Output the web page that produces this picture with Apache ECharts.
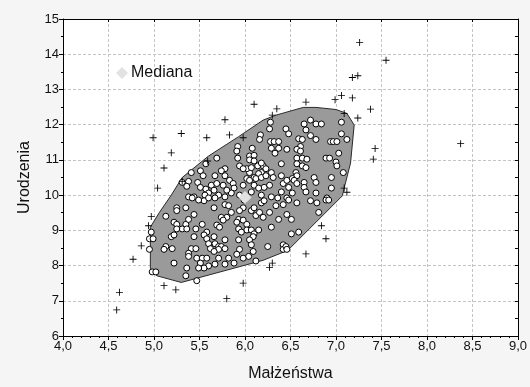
<!DOCTYPE html>
<html><head><meta charset="utf-8">
<script src="https://cdn.jsdelivr.net/npm/echarts@6/dist/echarts.min.js"></script>
<style>html,body{margin:0;padding:0;background:#f5f5f5}#c{width:530px;height:387px}</style>
</head><body><div id="c"></div>
<script>
// Bag (convex hull of the inner 50%) vertices [Małżeństwa, Urodzenia]
const bagHull = [[4.96,9.09],[4.96,7.93],[5.03,7.71],[5.30,7.52],[6.20,8.15],[6.47,8.43],[7.07,9.98],[7.09,10.20],[7.16,10.91],[7.20,11.99],[7.12,12.32],[7.00,12.43],[6.78,12.49],[6.64,12.49],[6.34,12.27],[6.20,12.13],[5.93,11.66],[5.60,11.11],[5.31,10.50],[5.19,10.00],[5.06,9.51]];
// Points inside the bag
const bagPoints = [
[5.41,10.64],[5.51,10.69],[5.54,10.55],[5.57,10.89],[5.38,10.39],[5.48,10.36],[5.51,10.22],[5.57,10.17],[5.60,10.06],[5.38,9.95],[5.44,9.95],[5.56,10.00],[5.63,10.28],[5.31,10.36],[5.36,10.25],[5.55,9.84],[5.49,9.86],[5.42,9.92],[5.60,9.92],
[5.13,9.40],[5.25,9.64],[5.25,9.56],[5.35,9.64],[5.44,9.45],[5.22,9.23],[5.25,9.17],[5.35,9.17],[5.38,9.31],[5.31,9.04],[5.25,9.04],[5.36,9.04],[5.46,9.04],[5.53,9.17],[5.58,8.95],[5.44,8.82],[5.55,8.87],[5.58,8.76],[5.60,8.62],[5.62,8.48],[5.19,8.82],[5.22,8.87],[4.97,8.95],[4.95,8.76],[4.99,8.76],[4.95,8.46],[5.13,8.54],[5.11,8.46],[5.20,8.48],[5.41,8.48],[5.46,8.48],[5.38,8.35],[5.38,8.26],[5.47,8.21],[5.53,8.21],[5.58,8.21],[5.51,8.07],[5.60,7.99],[5.55,7.93],[5.49,7.93],[5.22,8.07],[5.36,7.93],[5.35,7.71],[5.47,7.57],[4.98,7.82],[5.02,7.82],
[6.28,12.07],[6.27,11.88],[6.17,11.71],[6.16,11.58],[6.28,11.52],[6.32,11.52],[6.37,11.52],[6.37,11.33],[6.29,11.33],[6.08,11.33],[5.92,11.38],[5.91,11.25],[5.69,11.05],[6.05,11.11],[6.10,11.13],[6.05,11.00],[6.10,10.97],[6.14,10.83],[6.20,10.83],[6.23,10.75],[6.18,10.64],[6.15,10.61],[6.10,10.50],[6.05,10.64],[6.02,10.75],[5.94,10.83],[5.78,10.75],[5.74,10.69],[5.67,10.55],[5.78,10.55],[5.83,10.42],[5.87,10.33],[5.88,10.20],[5.98,10.28],[6.02,10.47],[6.05,10.42],[6.12,10.47],[6.18,10.50],[6.23,10.55],[6.29,10.64],[6.31,10.50],[6.40,10.89],[6.40,10.55],[6.42,10.33],[6.27,10.28],[6.21,10.22],[6.10,10.28],[6.07,10.09],[6.18,10.00],[6.29,9.95],[6.36,9.92],[6.40,10.09],[5.94,10.00],[5.85,10.06],[5.80,10.14],[5.76,10.28],[5.69,10.33],[5.66,10.14],[5.71,10.00],[5.78,9.95],[5.67,9.92],[6.33,11.19],[5.92,11.05],[5.98,10.75],[6.07,10.78],[6.18,10.91],[6.15,10.20],
[5.66,9.64],[5.78,9.73],[5.82,9.70],[5.85,9.51],[5.80,9.37],[5.74,9.37],[5.76,9.29],[5.69,9.15],[5.72,9.09],[5.99,9.86],[5.98,9.64],[5.94,9.56],[5.93,9.31],[5.91,9.23],[5.98,9.29],[6.02,9.17],[6.07,9.56],[6.10,9.64],[6.12,9.42],[6.16,9.51],[6.20,9.37],[6.18,9.78],[6.21,9.84],[6.27,9.51],[6.37,9.31],[6.42,9.73],[6.02,9.01],[6.07,9.01],[6.10,8.90],[6.15,9.01],[6.09,8.82],[6.05,8.73],[6.07,8.59],[5.93,9.04],[5.96,8.95],[5.93,8.73],[5.94,8.46],[5.91,8.32],[5.66,8.82],[5.67,8.62],[5.71,8.54],[5.74,8.54],[5.78,8.48],[5.71,8.46],[5.66,8.40],[5.78,8.73],[5.82,8.21],[5.71,8.21],[5.67,8.04],[5.78,8.04],[5.88,8.07],[6.04,8.26],[6.09,8.40],[6.25,8.54],[6.42,8.59],[6.42,8.46],[6.12,8.13],[5.98,8.21],[6.34,9.70],[6.29,9.09],
[6.65,12.02],[6.72,12.13],[6.78,12.02],[6.84,12.02],[7.06,12.07],[6.45,11.88],[6.48,11.74],[6.67,11.85],[6.72,11.69],[6.78,11.58],[6.59,11.60],[6.63,11.58],[6.61,11.38],[6.57,11.30],[6.61,11.25],[6.46,11.30],[6.94,11.52],[6.97,11.52],[7.01,11.52],[7.06,11.74],[7.12,11.58],[7.03,11.19],[6.89,11.05],[6.93,11.05],[7.00,10.94],[7.01,10.83],[7.08,10.64],[6.95,10.50],[6.57,11.05],[6.63,11.05],[6.68,11.02],[6.57,10.89],[6.63,10.83],[6.67,10.78],[6.56,10.64],[6.57,10.55],[6.52,10.47],[6.46,10.42],[6.54,10.42],[6.57,10.33],[6.65,10.36],[6.65,10.22],[6.76,10.50],[6.78,10.36],[6.67,10.09],[6.78,10.06],[6.95,10.20],[6.90,9.92],[6.46,9.92],[6.52,10.06],[6.48,10.22],[6.48,9.86],[6.57,9.78],[6.72,9.84],[6.79,9.78],[6.89,9.86],[6.92,9.86],[6.46,9.45],[6.51,9.31],[6.81,9.51],[6.51,8.90],[6.59,8.95],[6.45,8.54],[6.46,8.46]
];
// Points outside the bag
const outliers = [
[4.99,11.63],[5.30,11.75],[5.58,11.63],[5.78,12.14],[5.83,11.71],[5.98,11.63],[6.10,12.58],[5.19,11.20],[5.11,10.77],[5.04,10.20],[5.31,10.39],[5.59,10.97],
[7.26,14.33],[7.55,13.83],[7.18,13.34],[7.24,13.39],[6.67,12.64],[6.35,12.45],[6.30,12.27],[6.99,12.71],[7.06,12.83],[7.18,12.76],[7.38,12.44],[7.09,12.32],[7.24,12.19],[7.43,11.32],[7.41,11.02],[8.37,11.46],[7.09,10.20],[7.12,10.08],
[6.84,9.13],[6.89,8.76],[6.67,8.33],[6.30,8.07],[6.27,7.95],
[4.97,9.39],[4.94,9.13],[4.86,8.56],[4.77,8.18],[4.62,7.24],[4.59,6.74],[5.11,7.43],[5.24,7.31],[5.80,7.06],[5.98,7.50]
];
const median = [[6.00,9.93]];
const xName = 'Małżeństwa';
const yName = 'Urodzenia';
const medianName = 'Mediana';

const fmt = v => v.toFixed(1).replace('.', ',');
const font = 'Liberation Sans, Arial, sans-serif';
const chart = echarts.init(document.getElementById('c'));
const plus = 'path://M3.5,0H4.5V3.5H8V4.5H4.5V8H3.5V4.5H0V3.5H3.5Z';
chart.setOption({
  backgroundColor: '#f5f5f5',
  animation: false,
  textStyle: {fontFamily: font},
  grid: {left: 63, right: 8, top: 19, bottom: 42, show: true, backgroundColor: '#ffffff', borderWidth: 0},
  legend: {
    left: 116, top: 65, padding: 0, itemWidth: 12, itemHeight: 12, itemGap: 5,
    data: [{name: medianName, icon: 'diamond'}],
    textStyle: {fontSize: 16, color: '#111', fontFamily: font, padding: [0, 0, 0, -2]}
  },
  xAxis: [{
    type: 'value', min: 4, max: 9, interval: 0.5, position: 'bottom',
    name: xName, nameLocation: 'middle', nameGap: 30,
    nameTextStyle: {fontSize: 16, color: '#111', fontFamily: font},
    axisLine: {show: true, onZero: false, lineStyle: {color: '#000', width: 1}},
    axisTick: {show: true, inside: false, length: 4, lineStyle: {color: '#000'}},
    minorTick: {show: true, splitNumber: 5, length: 2, lineStyle: {color: '#000'}},
    axisLabel: {formatter: fmt, fontSize: 13, color: '#111', margin: 4, fontFamily: font},
    splitLine: {show: true, lineStyle: {color: '#c4c4c4', type: [3, 2], width: 1}}
  }, {
    type: 'value', min: 4, max: 9, interval: 0.5, position: 'top',
    axisLine: {show: true, onZero: false, lineStyle: {color: '#000', width: 1}},
    axisTick: {show: true, inside: true, length: 3, lineStyle: {color: '#000'}},
    axisLabel: {show: false}, splitLine: {show: false}
  }],
  yAxis: [{
    type: 'value', min: 6, max: 15, interval: 1, position: 'left',
    name: yName, nameLocation: 'middle', nameGap: 30,
    nameTextStyle: {fontSize: 16, color: '#111', fontFamily: font},
    axisLine: {show: true, onZero: false, lineStyle: {color: '#000', width: 1}},
    axisTick: {show: true, inside: false, length: 4, lineStyle: {color: '#000'}},
    minorTick: {show: true, splitNumber: 2, length: 2, lineStyle: {color: '#000'}},
    axisLabel: {fontSize: 13, color: '#111', margin: 4, fontFamily: font},
    splitLine: {show: true, lineStyle: {color: '#c4c4c4', type: [3, 2], width: 1}}
  }, {
    type: 'value', min: 6, max: 15, interval: 1, position: 'right',
    axisLine: {show: true, onZero: false, lineStyle: {color: '#000', width: 1}},
    axisTick: {show: true, inside: true, length: 3, lineStyle: {color: '#000'}},
    minorTick: {show: true, splitNumber: 2, length: 3, lineStyle: {color: '#000'}},
    axisLabel: {show: false}, splitLine: {show: false}
  }],
  series: [{
    type: 'custom', name: 'bag', silent: true, data: bagHull, z: 1,
    renderItem: function (params, api) {
      if (params.dataIndex !== 0) return null;
      const pts = bagHull.map(p => api.coord(p));
      return {type: 'polygon', shape: {points: pts},
        style: {fill: '#9a9a9a', stroke: '#2a2a2a', lineWidth: 1}};
    }
  }, {
    type: 'scatter', name: 'bagPoints', data: bagPoints, symbol: 'circle', symbolSize: 6, z: 2,
    itemStyle: {color: '#ffffff', borderColor: '#000', borderWidth: 1, opacity: 1}
  }, {
    type: 'scatter', name: 'outliers', data: outliers, symbol: plus, symbolSize: 7, z: 3,
    itemStyle: {color: '#000', opacity: 1}
  }, {
    type: 'scatter', name: medianName, data: median, symbol: 'diamond', symbolSize: 13, z: 4,
    itemStyle: {color: '#e2e2e2', opacity: 1}
  }]
});
</script></body></html>
